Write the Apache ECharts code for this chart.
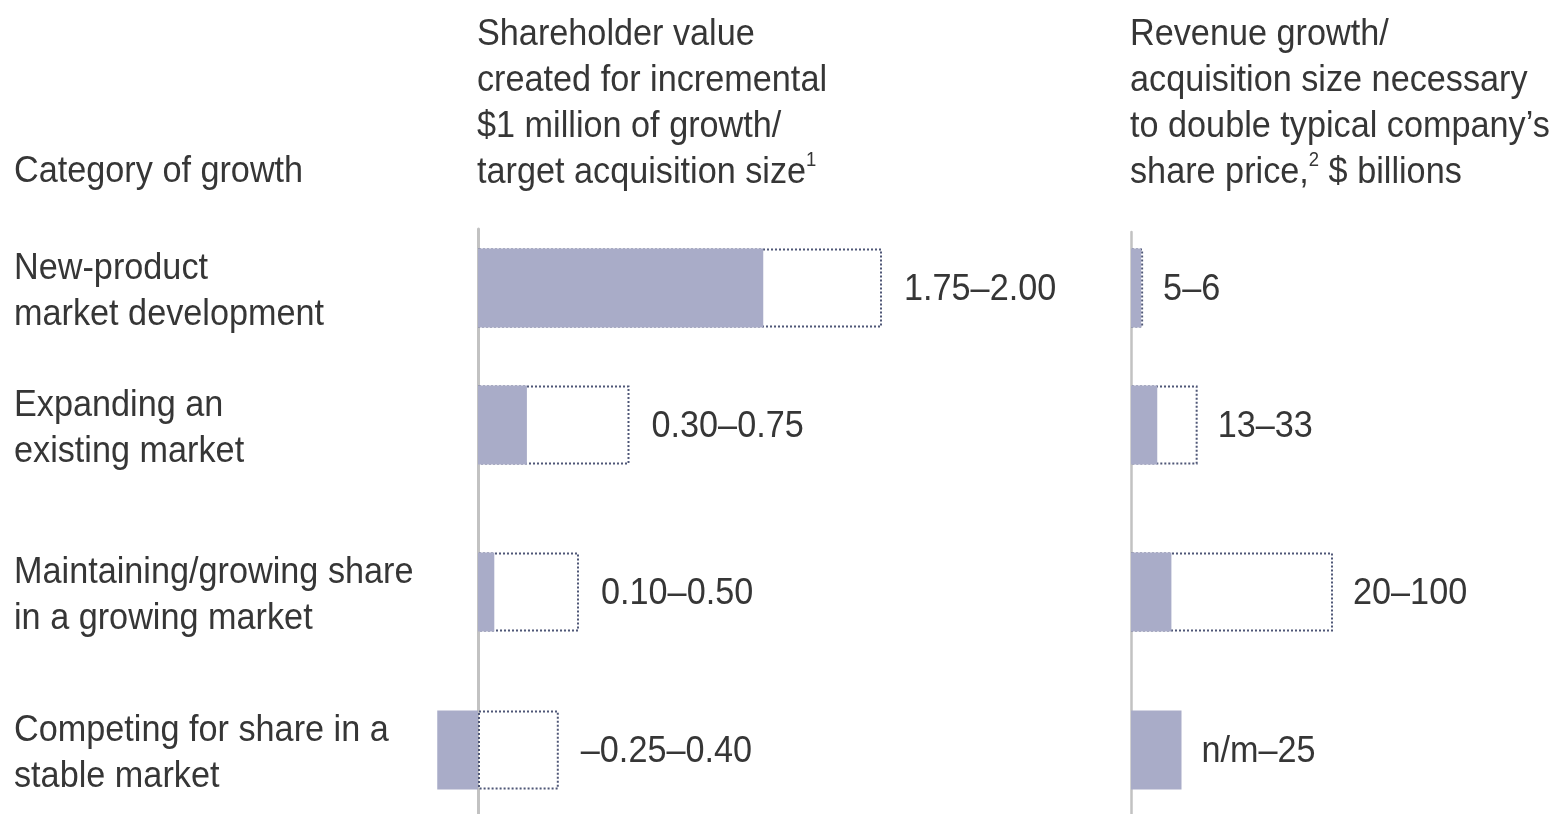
<!DOCTYPE html>
<html><head><meta charset="utf-8">
<script src="https://cdn.jsdelivr.net/npm/echarts@6/dist/echarts.min.js"></script>
<style>html,body{margin:0;padding:0;background:#fff}#c{width:1568px;height:814px}</style>
</head><body><div id="c"></div>
<script>
// ---- data ----
const CATEGORIES = [
  'New-product\nmarket development',
  'Expanding an\nexisting market',
  'Maintaining/growing share\nin a growing market',
  'Competing for share in a\nstable market'
];
const SHARE_LOW = [1.75, 0.30, 0.10, -0.25];
const SHARE_HIGH = [2.00, 0.75, 0.50, 0.40];
const SHARE_LABELS = ['1.75–2.00', '0.30–0.75', '0.10–0.50', '–0.25–0.40'];
const REV_LOW = [5, 13, 20, null];      // null = n/m
const REV_HIGH = [6, 33, 100, 25];
const REV_LABELS = ['5–6', '13–33', '20–100', 'n/m–25'];
const HEAD_CATEGORY = 'Category of growth';
const HEAD_SHARE = 'Shareholder value\ncreated for incremental\n$1 million of growth/\ntarget acquisition size{sup|1}';
const HEAD_REV = 'Revenue growth/\nacquisition size necessary\nto double typical company’s\nshare price,{sup|2} $ billions';

// ---- layout / style ----
const ROW_C = [288, 425, 592, 750];
const BAR_H = 79;
const L_ZERO = 478, L_OUT_SCALE = 202, L_FILL_SCALE = 163, L_LEFT = 419, L_RIGHT = 929;
const R_ZERO = 1131, R_SCALE = 2.02, R_LEFT = 1121, R_RIGHT = 1541;
const FONT = "'Liberation Sans', Arial, sans-serif";
const FS = 37, SX = 0.925, TXT = '#363636', DY = 4;
const FILL = '#a9acc8';
const outlineStyle = { color: '#ffffff', borderColor: '#4f5777', borderWidth: 2, borderType: [2, 2] };

const chart = echarts.init(document.getElementById('c'), null, { renderer: 'canvas' });
const grid = [], xAxis = [], yAxis = [], series = [];
ROW_C.forEach(c => grid.push({ left: L_LEFT, width: L_RIGHT - L_LEFT, top: c - 40, height: 80 }));
ROW_C.forEach(c => grid.push({ left: R_LEFT, width: R_RIGHT - R_LEFT, top: c - 40, height: 80 }));
grid.push({ left: L_ZERO, width: 50, top: 229, bottom: 0 });
grid.push({ left: R_ZERO, width: 50, top: 232, bottom: 0 });

ROW_C.forEach((c, r) => {
  xAxis.push({ gridIndex: r, type: 'value', show: false,
    min: -(L_ZERO - L_LEFT) / L_OUT_SCALE, max: (L_RIGHT - L_ZERO) / L_OUT_SCALE });
  xAxis.push({ gridIndex: r, type: 'value', show: false,
    min: -(L_ZERO - L_LEFT) / L_FILL_SCALE, max: (L_RIGHT - L_ZERO) / L_FILL_SCALE });
  xAxis.push({ gridIndex: 4 + r, type: 'value', show: false,
    min: -(R_ZERO - R_LEFT) / R_SCALE, max: (R_RIGHT - R_ZERO) / R_SCALE });
});
ROW_C.forEach((c, r) => yAxis.push({ gridIndex: r, type: 'category', data: [CATEGORIES[r]], show: false }));
ROW_C.forEach((c, r) => yAxis.push({ gridIndex: 4 + r, type: 'category', data: [CATEGORIES[r]], show: false }));
[8, 9].forEach((gi, k) => {
  xAxis.push({ gridIndex: gi, type: 'value', min: 0, max: 1, show: false });
  yAxis.push({ gridIndex: gi, type: 'category', data: [''],
    axisLine: { show: true, onZero: false, lineStyle: { color: '#c2c2c2', width: k === 0 ? 3 : 2.5 } },
    axisTick: { show: false }, axisLabel: { show: false }, splitLine: { show: false } });
});

ROW_C.forEach((c, r) => {
  series.push({ type: 'bar', xAxisIndex: 3 * r, yAxisIndex: r, data: [SHARE_HIGH[r]],
    barWidth: BAR_H, barGap: '-100%', itemStyle: outlineStyle, z: 2, silent: true });
  series.push({ type: 'bar', xAxisIndex: 3 * r + 1, yAxisIndex: r, data: [SHARE_LOW[r]],
    barWidth: BAR_H, barGap: '-100%', itemStyle: { color: FILL }, z: 3, silent: true });
  series.push({ type: 'bar', xAxisIndex: 3 * r + 2, yAxisIndex: 4 + r,
    data: [REV_LOW[r] == null ? null : REV_HIGH[r]],
    barWidth: BAR_H, barGap: '-100%', itemStyle: outlineStyle, z: 2, silent: true });
  series.push({ type: 'bar', xAxisIndex: 3 * r + 2, yAxisIndex: 4 + r,
    data: [REV_LOW[r] == null ? REV_HIGH[r] : REV_LOW[r]],
    barWidth: BAR_H, barGap: '-100%', itemStyle: { color: FILL }, z: 3, silent: true });
});

chart.setOption({ animation: false, backgroundColor: '#ffffff', grid, xAxis, yAxis, series });

// ---- texts ----
function txt(x, y, text, va) {
  return { type: 'text', x, y: y + DY, scaleX: SX, silent: true, z: 10,
    style: { text, fill: TXT, fontSize: FS, fontFamily: FONT, lineHeight: 46,
      align: 'left', verticalAlign: va || 'middle',
      rich: { sup: { fontSize: 20, fontFamily: FONT, fill: TXT, lineHeight: 26, verticalAlign: 'top' } } } };
}
const px = (si, v) => chart.convertToPixel({ seriesIndex: si }, [v, 0]);
const graphic = [];
graphic.push(txt(14, 168, HEAD_CATEGORY));
graphic.push(txt(477, 8, HEAD_SHARE, 'top'));
graphic.push(txt(1130, 8, HEAD_REV, 'top'));
ROW_C.forEach((c, r) => {
  const yc = px(4 * r, 0)[1];
  graphic.push(txt(14, yc, CATEGORIES[r]));
  const lEnd = Math.max(px(4 * r, SHARE_HIGH[r])[0], px(4 * r + 1, SHARE_LOW[r])[0]);
  graphic.push(txt(lEnd + 22, yc - 2, SHARE_LABELS[r]));
  const rVals = [REV_HIGH[r], REV_LOW[r]].filter(v => v != null);
  const rEnd = Math.max.apply(null, rVals.map(v => px(4 * r + 3, v)[0]));
  graphic.push(txt(rEnd + 20, yc - 2, REV_LABELS[r]));
});
chart.setOption({ graphic });
</script>
</body></html>
